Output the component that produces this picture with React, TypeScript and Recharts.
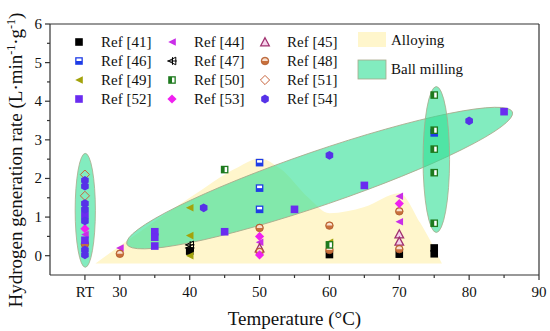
import React from 'react';
import { ComposedChart, XAxis, YAxis, Scatter, Area, ReferenceArea, ReferenceLine } from 'recharts';

const FONT = '"Liberation Serif", "Times New Roman", serif';
const RT = 25;

// ---- data (temperature t in °C, RT = 25; rate v in L·min-1·g-1) ----
const ref41 = [{ t: 40, v: 0.12 }, { t: 60, v: 0.03 }, { t: 70, v: 0.04 }, { t: 75, v: 0.2 }, { t: 75, v: 0.05 }];
const ref44 = [{ t: RT, v: 0.55 }, { t: 30, v: 0.2 }, { t: 50, v: 0.35 }, { t: 70, v: 1.54 }, { t: 70, v: 0.88 }];
const ref45 = [{ t: 50, v: 0.2 }, { t: 70, v: 0.56 }, { t: 70, v: 0.37 }];
const ref46 = [{ t: 50, v: 2.41 }, { t: 50, v: 1.75 }, { t: 50, v: 1.2 }, { t: 75, v: 3.18 }];
const ref47 = [{ t: 40, v: 0.28 }, { t: 40, v: 0.2 }];
const ref48 = [{ t: 30, v: 0.05 }, { t: 50, v: 0.72 }, { t: 50, v: 0.1 }, { t: 60, v: 0.78 }, { t: 60, v: 0.15 }, { t: 70, v: 1.15 }, { t: 70, v: 0.17 }, { t: RT, v: 0.3 }];
const ref49 = [{ t: 40, v: 1.24 }, { t: 40, v: 0.52 }, { t: 40, v: 0.0 }, { t: 60, v: 0.35 }];
const ref50 = [{ t: 45, v: 2.23 }, { t: 60, v: 0.28 }, { t: 75, v: 4.16 }, { t: 75, v: 3.25 }, { t: 75, v: 2.76 }, { t: 75, v: 2.15 }, { t: 75, v: 0.84 }];
const ref51 = [{ t: RT, v: 2.1 }, { t: RT, v: 1.55 }];
const ref52 = [{ t: RT, v: 1.05 }, { t: RT, v: 0.4 }, { t: 35, v: 0.62 }, { t: 35, v: 0.48 }, { t: 35, v: 0.25 }, { t: 45, v: 0.62 }, { t: 55, v: 1.2 }, { t: 65, v: 1.82 }, { t: 85, v: 3.73 }];
const ref53 = [{ t: RT, v: 0.7 }, { t: 50, v: 0.5 }, { t: 50, v: 0.02 }, { t: 70, v: 1.35 }];
const ref54 = [{ t: RT, v: 1.95 }, { t: RT, v: 1.8 }, { t: RT, v: 1.35 }, { t: RT, v: 1.2 }, { t: RT, v: 0.9 }, { t: RT, v: 0.15 }, { t: RT, v: 0.02 }, { t: 42, v: 1.24 }, { t: 60, v: 2.6 }, { t: 80, v: 3.49 }];

// Alloying region outline (top edge), base at -0.2
const alloyT = [26.5, 40, 47, 50, 53, 57, 60, 65, 70, 73, 76.1];
const alloyV = [-0.2, 1.5, 2.3, 2.52, 2.25, 1.5, 1.1, 1.26, 1.62, 0.85, -0.2];
const alloyData = alloyT.map((t, i) => ({ t, v: alloyV[i] }));

// Ball-milling regions [t1, t2, v1, v2]
const millRT = { t1: 23.6, t2: 26.5, v1: -0.3, v2: 2.65 };
const mill75 = { t1: 73.4, t2: 77.2, v1: 0.6, v2: 4.38 };
const millBand = { t1: 31.0, t2: 86.2, v1: 0.3, v2: 3.72 };

const xTicks = [25, 30, 35, 40, 45, 50, 55, 60, 65, 70, 75, 80, 85, 90];
const xLabels: Record<number, string> = { 25: 'RT', 30: '30', 40: '40', 50: '50', 60: '60', 70: '70', 80: '80', 90: '90' };
const yTicks = [0, 0.5, 1, 1.5, 2, 2.5, 3, 3.5, 4, 4.5, 5, 5.5, 6];

const series = [
  { name: 'Ref [41]', kind: 'sq41', data: ref41 },
  { name: 'Ref [44]', kind: 'lt44', data: ref44 },
  { name: 'Ref [45]', kind: 'ut45', data: ref45 },
  { name: 'Ref [46]', kind: 'sq46', data: ref46 },
  { name: 'Ref [47]', kind: 'lt47', data: ref47 },
  { name: 'Ref [48]', kind: 'ci48', data: ref48 },
  { name: 'Ref [49]', kind: 'lt49', data: ref49 },
  { name: 'Ref [50]', kind: 'sq50', data: ref50 },
  { name: 'Ref [51]', kind: 'di51', data: ref51 },
  { name: 'Ref [52]', kind: 'sq52', data: ref52 },
  { name: 'Ref [53]', kind: 'di53', data: ref53 },
  { name: 'Ref [54]', kind: 'hx54', data: ref54 },
];

const GREEN = '#2ee094';
const YELLOW = '#fff6cc';
const TXT = { fontFamily: FONT };

function Marker({ kind, cx, cy }: { kind: string; cx: number; cy: number }) {
  const s = 3.8;
  const leftTri = `${cx - s},${cy} ${cx + s},${cy - s} ${cx + s},${cy + s}`;
  switch (kind) {
    case 'sq41':
      return <rect x={cx - s} y={cy - s} width={2 * s} height={2 * s} fill="#000" />;
    case 'lt44':
      return <polygon points={leftTri} fill="#c92ee8" />;
    case 'ut45':
      return <polygon points={`${cx},${cy - s - 0.5} ${cx + s + 0.5},${cy + s} ${cx - s - 0.5},${cy + s}`} fill="#f6d3ec" stroke="#a0306e" strokeWidth={1.3} />;
    case 'sq46':
      return (
        <g>
          <rect x={cx - s} y={cy - s} width={2 * s} height={2 * s} fill="#1e3ce6" />
          <rect x={cx - s + 1.3} y={cy - s + 1.3} width={2 * s - 2.6} height={s - 1.3} fill="#fff" />
        </g>
      );
    case 'lt47':
      return (
        <g fill="none" stroke="#000" strokeWidth={1}>
          <polygon points={leftTri} />
          <line x1={cx - s - 1} y1={cy} x2={cx + s + 1} y2={cy} />
          <line x1={cx + 0.5} y1={cy - s} x2={cx + 0.5} y2={cy + s} />
        </g>
      );
    case 'ci48':
      return (
        <g>
          <circle cx={cx} cy={cy} r={s} fill="#c8703c" stroke="#b0582a" strokeWidth={0.8} />
          <path d={`M ${cx - s + 1} ${cy} A ${s - 1} ${s - 1} 0 0 1 ${cx + s - 1} ${cy} Z`} fill="#f8e0d0" />
        </g>
      );
    case 'lt49':
      return <polygon points={leftTri} fill="#a3a30c" />;
    case 'sq50':
      return (
        <g>
          <rect x={cx - s} y={cy - s} width={2 * s} height={2 * s} fill="#1e7a1e" />
          <rect x={cx} y={cy - s + 1.3} width={s - 1.3} height={2 * s - 2.6} fill="#fff" />
        </g>
      );
    case 'di51':
      return <polygon points={`${cx},${cy - s - 0.8} ${cx + s + 0.8},${cy} ${cx},${cy + s + 0.8} ${cx - s - 0.8},${cy}`} fill="none" stroke="#c8643c" strokeWidth={1} />;
    case 'sq52':
      return <rect x={cx - s} y={cy - s} width={2 * s} height={2 * s} fill="#6a2cf0" />;
    case 'di53':
      return <polygon points={`${cx},${cy - s - 0.8} ${cx + s + 0.8},${cy} ${cx},${cy + s + 0.8} ${cx - s - 0.8},${cy}`} fill="#f020f0" />;
    case 'hx54': {
      const r = s + 0.6;
      const pts = [0, 1, 2, 3, 4, 5].map((k) => {
        const a = (Math.PI / 3) * k + Math.PI / 6;
        return `${cx + r * Math.cos(a)},${cy + r * Math.sin(a)}`;
      });
      return <polygon points={pts.join(' ')} fill="#5632e8" />;
    }
    default:
      return null;
  }
}

const makeShape = (kind: string) => (props: any) => <Marker kind={kind} cx={props.cx} cy={props.cy} />;

const EllipseShape = (rotated: boolean) => (props: any) => {
  const { x, y, width, height } = props;
  const cx = x + width / 2;
  const cy = y + height / 2;
  if (!rotated) {
    return <ellipse cx={cx} cy={cy} rx={width / 2} ry={height / 2} fill={GREEN} fillOpacity={0.6} stroke="#a9a98a" strokeWidth={0.8} />;
  }
  const a = Math.sqrt(width * width + height * height) / 2;
  const ang = (Math.atan2(-height, width) * 180) / Math.PI;
  return <ellipse cx={cx} cy={cy} rx={a} ry={27} transform={`rotate(${ang} ${cx} ${cy})`} fill={GREEN} fillOpacity={0.6} stroke="#a9a98a" strokeWidth={0.8} />;
};

const AXIS = '#333';

const XTick = (props: any) => {
  const { x, y, payload } = props;
  const v = payload.value;
  const label = xLabels[v];
  const len = label ? 5 : 3;
  return (
    <g>
      <line x1={x} x2={x} y1={y} y2={y + len} stroke={AXIS} strokeWidth={1.2} />
      {label && (
        <text x={x} y={y + 22} textAnchor="middle" fontSize={15} fontFamily={FONT} style={TXT} fill="#111">
          {label}
        </text>
      )}
    </g>
  );
};

const YTick = (props: any) => {
  const { x, y, payload } = props;
  const v = payload.value;
  const major = Number.isInteger(v);
  return (
    <g>
      <line x1={x - (major ? 5 : 3)} x2={x} y1={y} y2={y} stroke={AXIS} strokeWidth={1.2} />
      {major && (
        <text x={x - 8} y={y + 5} textAnchor="end" fontSize={15} fontFamily={FONT} style={TXT} fill="#111">
          {String(v)}
        </text>
      )}
    </g>
  );
};

const YTitle = () => (
  <text transform="rotate(-90 22 160)" x={22} y={160} textAnchor="middle" fontSize={19} fontFamily={FONT} style={TXT} fill="#111">
    Hydrogen generation rate (L·min
    <tspan dy={-7} fontSize={12}>-1</tspan>
    <tspan dy={7}>·g</tspan>
    <tspan dy={-7} fontSize={12}>-1</tspan>
    <tspan dy={7}>)</tspan>
  </text>
);

const XTitle = (props: any) => (
  <text x={294.5} y={325} textAnchor="middle" fontSize={19} fontFamily={FONT} style={TXT} fill="#111">
    Temperature (°C)
  </text>
);

const legendCols = [79, 172, 265];
const legendRows = [42, 61, 80, 99];

export default function App() {
  return (
    <div style={{ position: 'absolute', left: 0, top: 0, width: 550, height: 331, background: '#fff' }}>
      <ComposedChart width={550} height={331} margin={{ top: 24, right: 11, bottom: 0, left: 0 }}>
        <XAxis
          type="number"
          dataKey="t"
          domain={[20, 90]}
          ticks={xTicks}
          interval={0}
          tickSize={0}
          tickMargin={0}
          tick={XTick}
          height={56}
          stroke={AXIS}
          strokeWidth={1.2}
          label={{ content: XTitle }}
          allowDataOverflow
        />
        <YAxis
          type="number"
          dataKey="v"
          domain={[-0.5, 6]}
          ticks={yTicks}
          interval={0}
          tickSize={0}
          tickMargin={0}
          tick={YTick}
          width={50}
          stroke={AXIS}
          strokeWidth={1.2}
          label={{ content: YTitle }}
          allowDataOverflow
        />
        <Area data={alloyData} dataKey="v" type="monotone" baseValue={-0.2} fill={YELLOW} fillOpacity={1} stroke="none" isAnimationActive={false} />
        <ReferenceArea x1={millBand.t1} x2={millBand.t2} y1={millBand.v1} y2={millBand.v2} shape={EllipseShape(true)} />
        <ReferenceArea x1={millRT.t1} x2={millRT.t2} y1={millRT.v1} y2={millRT.v2} shape={EllipseShape(false)} />
        <ReferenceArea x1={mill75.t1} x2={mill75.t2} y1={mill75.v1} y2={mill75.v2} shape={EllipseShape(false)} />
        <ReferenceLine y={6} stroke={AXIS} strokeWidth={1.2} />
        <ReferenceLine x={90} stroke={AXIS} strokeWidth={1.2} />
        {series.map((s) => (
          <Scatter key={s.name} name={s.name} data={s.data} shape={makeShape(s.kind)} isAnimationActive={false} />
        ))}
      </ComposedChart>
      <svg width={550} height={331} style={{ position: 'absolute', left: 0, top: 0, pointerEvents: 'none' }}>
        {series.map((s, i) => {
          const col = i % 3;
          const row = Math.floor(i / 3);
          const cx = legendCols[col];
          const cy = legendRows[row];
          return (
            <g key={s.name}>
              <Marker kind={s.kind} cx={cx} cy={cy} />
              <text x={cx + 22} y={cy + 5} fontSize={15} fontFamily={FONT} style={TXT} fill="#111">
                {s.name}
              </text>
            </g>
          );
        })}
        <rect x={358} y={32} width={28} height={15} fill={YELLOW} />
        <text x={391} y={45} fontSize={15} fontFamily={FONT} style={TXT} fill="#111">Alloying</text>
        <rect x={358} y={60} width={28} height={19} fill={GREEN} fillOpacity={0.6} stroke="#a9a98a" strokeWidth={0.8} />
        <text x={391} y={74} fontSize={15} fontFamily={FONT} style={TXT} fill="#111">Ball milling</text>
      </svg>
    </div>
  );
}
